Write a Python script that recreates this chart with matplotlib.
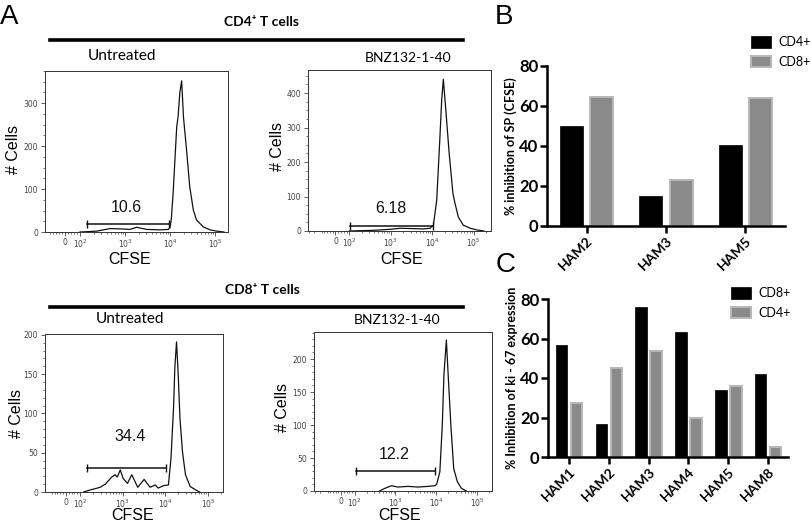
import matplotlib
matplotlib.use("Agg")
import matplotlib.pyplot as plt
import numpy as np
from matplotlib.ticker import AutoMinorLocator, FixedLocator, FixedFormatter

# ---- panel A : CFSE histograms (x = log10 CFSE, y = # cells) ----
cd4_untr_logx = [2.0, 2.2, 2.37, 2.67, 2.96, 3.11, 3.26, 3.48, 3.78, 3.96, 4.0, 4.03, 4.07, 4.15,
                 4.18, 4.22, 4.26, 4.30, 4.37, 4.44, 4.52, 4.59, 4.74, 4.89, 5.04, 5.2]
cd4_untr_cells = [0, 1, 2, 8, 7, 6, 11, 6, 5, 6, 10, 30, 90, 245,
                  268, 325, 352, 268, 190, 105, 51, 28, 12, 5, 2, 0]

cd4_bnz_logx = [2.0, 2.6, 3.0, 3.23, 3.5, 3.8, 3.95, 4.03, 4.11, 4.18, 4.23, 4.27, 4.33,
                4.41, 4.50, 4.55, 4.63, 4.75, 4.92, 5.08, 5.25]
cd4_bnz_cells = [0, 2, 5, 8, 7, 6, 8, 17, 90, 255, 380, 440, 350,
                 226, 110, 81, 41, 17, 8, 3, 0]

cd8_untr_logx = [2.08, 2.23, 2.47, 2.59, 2.74, 2.82, 2.87, 2.94, 3.01, 3.11, 3.21, 3.35, 3.50,
                 3.64, 3.76, 3.83, 3.95, 4.07, 4.13, 4.19, 4.22, 4.26, 4.30, 4.34, 4.40, 4.47,
                 4.58, 4.73, 4.8]
cd8_untr_cells = [0, 2.5, 6, 10, 19, 22, 19, 28, 17, 11, 22, 6, 16,
                  6, 9, 5, 8, 9, 43, 107, 158, 191, 149, 94, 51, 22,
                  7, 2, 0]

cd8_bnz_logx = [2.61, 2.74, 2.90, 3.06, 3.31, 3.56, 3.80, 3.97, 4.01, 4.09, 4.15, 4.19, 4.25,
                4.29, 4.36, 4.43, 4.52, 4.62, 4.74]
cd8_bnz_cells = [0, 4, 8, 6, 7, 6, 7, 8, 10, 29, 100, 176, 229,
                 181, 100, 34, 14, 4, 0]

# gates: start, end (log10), height, percentage
gate_lo = [2.16, 2.02, 2.16, 2.02]
gate_hi = [3.98, 4.03, 4.01, 3.97]
gate_y = [18.6, 15, 30, 30]
gate_pct = ["10.6", "6.18", "34.4", "12.2"]
pct_logx = [3.04, 3.0, 3.17, 2.98]
pct_y = [56, 64, 70, 55]

# ---- panel B / C ----
b_groups = ["HAM2", "HAM3", "HAM5"]
b_cd4 = [50, 15, 40.5]
b_cd8 = [64.5, 23, 64]

c_groups = ["HAM1", "HAM2", "HAM3", "HAM4", "HAM5", "HAM8"]
c_cd8 = [56.5, 16.5, 76, 63.5, 34, 42]
c_cd4 = [27.5, 45, 53.5, 20, 36, 5]

W, H = 812, 522
fig = plt.figure(figsize=(W / 100, H / 100), dpi=100)


def px_axes(x0, y0, x1, y1):
    return fig.add_axes([x0 / W, 1 - y1 / H, (x1 - x0) / W, (y1 - y0) / H])


def ftext(x, y, s, **kw):
    fig.text(x / W, 1 - y / H, s, **kw)


arial = "Liberation Sans"
calib = "Lato"
ink = "#111111"

hists = [
    ((45, 71, 228, 232), cd4_untr_logx, cd4_untr_cells, (-129, 10 ** 5.29), 375, 100),
    ((308, 70, 491, 231), cd4_bnz_logx, cd4_bnz_cells, (-214, 10 ** 5.42), 467, 100),
    ((45, 334, 223, 492), cd8_untr_logx, cd8_untr_cells, (-144, 10 ** 5.35), 201, 50),
    ((314, 332, 492, 491), cd8_bnz_logx, cd8_bnz_cells, (-215, 10 ** 5.37), 241, 50),
]

minor_x = [-200, -150, -100, -80, -60, -40, -20, 20, 40, 60, 80]
for k in range(2, 6):
    minor_x += [m * 10 ** k for m in range(2, 10)]

for i, (box, lx, cells, xl, ytop, ystep) in enumerate(hists):
    ax = px_axes(*box)
    ax.set_xscale("symlog", linthresh=100, linscale=0.3)
    ax.plot(10 ** np.array(lx), cells, color=ink, lw=0.9)
    ax.set_xlim(*xl)
    ax.set_ylim(0, ytop)
    ax.xaxis.set_major_locator(FixedLocator([0, 1e2, 1e3, 1e4, 1e5]))
    ax.xaxis.set_major_formatter(FixedFormatter(["0", "$10^{2}$", "$10^{3}$", "$10^{4}$", "$10^{5}$"]))
    ax.xaxis.set_minor_locator(FixedLocator(minor_x))
    ax.yaxis.set_major_locator(FixedLocator(np.arange(0, ytop, ystep)))
    ax.yaxis.set_minor_locator(AutoMinorLocator(4 if ystep == 100 else 5))
    ax.tick_params(which="major", length=3, width=0.6, labelsize=5.5, colors="#444444", pad=2)
    ax.tick_params(axis="x", which="major", pad=1)
    ax.tick_params(which="minor", length=1.6, width=0.5, colors="#444444")
    for sp in ax.spines.values():
        sp.set_linewidth(0.7)
        sp.set_color("#333333")
    # gate bar
    ax.plot([10 ** gate_lo[i], 10 ** gate_hi[i]], [gate_y[i], gate_y[i]], color=ink, lw=1.1)
    for g in (gate_lo[i], gate_hi[i]):
        ax.plot([10 ** g], [gate_y[i]], marker="|", markersize=6, mew=1.0, color=ink)
    ax.text(10 ** pct_logx[i], pct_y[i], gate_pct[i], ha="center", va="center",
            fontsize=11.5, family=arial, color=ink)

# titles and axis labels for the histograms
ftext(122, 56, "Untreated", ha="center", va="center", fontsize=11, family=calib)
ftext(408, 58, "BNZ132-1-40", ha="center", va="center", fontsize=10, family=calib)
ftext(130, 319, "Untreated", ha="center", va="center", fontsize=11, family=calib)
ftext(397, 320, "BNZ132-1-40", ha="center", va="center", fontsize=10, family=calib)
for x, y in [(14, 150), (278, 147), (17, 413), (283, 407)]:
    ftext(x, y, "# Cells", ha="center", va="center", rotation=90, fontsize=11.5, family=arial)
for x, y in [(130, 259), (402, 259), (133, 516), (400, 516)]:
    ftext(x, y, "CFSE", ha="center", va="center", fontsize=11.5, family=arial)

ftext(262, 22, "CD4\u207a T cells", ha="center", va="center", fontsize=10, fontweight="bold",
      family=[calib, "DejaVu Sans"])
ftext(262, 290, "CD8\u207a T cells", ha="center", va="center", fontsize=10, fontweight="bold",
      family=[calib, "DejaVu Sans"])
fig.add_artist(plt.Line2D([50 / W, 463 / W], [1 - 40 / H, 1 - 40 / H], color="black", lw=2.6))
fig.add_artist(plt.Line2D([50 / W, 463 / W], [1 - 307 / H, 1 - 307 / H], color="black", lw=2.6))

ftext(9, 17, "A", ha="center", va="center", fontsize=20, family=arial)
ftext(504, 17, "B", ha="center", va="center", fontsize=20, family=arial)
ftext(506, 265, "C", ha="center", va="center", fontsize=20, family=arial)


def bar_panel(box, groups, first, second, names, ylabel, legend_xy):
    ax = px_axes(*box)
    x = np.arange(len(groups))
    b1 = ax.bar(x - 0.19, first, width=0.29, color="black", edgecolor="black", lw=0.5)
    b2 = ax.bar(x + 0.19, second, width=0.29, color="#8a8a8a", edgecolor="#b8b8b8", lw=1.4)
    ax.set_xlim(-0.5 - 0.03 * (len(groups) > 3), len(groups) - 0.5)
    ax.set_ylim(0, 80)
    ax.set_yticks([0, 20, 40, 60, 80])
    ax.set_xticks(x)
    ax.set_xticklabels(groups, rotation=45, ha="right", rotation_mode="anchor",
                       fontsize=10, fontweight="bold", family=calib)
    for lab in ax.get_yticklabels():
        lab.set_fontweight("bold")
        lab.set_family(calib)
        lab.set_fontsize(12)
    ax.spines["top"].set_visible(False)
    ax.spines["right"].set_visible(False)
    ax.spines["left"].set_linewidth(1.8)
    ax.spines["bottom"].set_linewidth(1.8)
    ax.tick_params(width=1.8, length=5, pad=1)
    ax.set_ylabel(ylabel, fontsize=9, fontweight="bold", family=calib, labelpad=2)
    fig.legend([b1, b2], names, loc="upper left", bbox_to_anchor=(legend_xy[0] / W, 1 - legend_xy[1] / H),
               frameon=False, prop={"family": calib, "size": 9}, handlelength=1.6,
               handleheight=1.05, handletextpad=0.6, labelspacing=0.6, borderaxespad=0, borderpad=0)
    return ax


bar_panel((547, 66, 785, 226), b_groups, b_cd4, b_cd8, ["CD4+", "CD8+"],
          "% inhibition of SP (CFSE)", (751, 36))
bar_panel((548, 299, 788, 457), c_groups, c_cd8, c_cd4, ["CD8+", "CD4+"],
          "% Inhibition of ki - 67 expression", (731, 287))

fig.savefig("out.png", dpi=100)
